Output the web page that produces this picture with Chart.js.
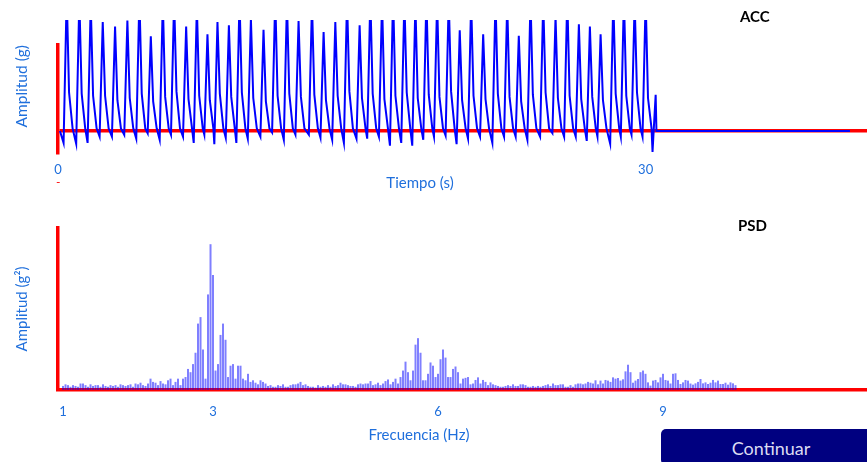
<!DOCTYPE html>
<html>
<head>
<meta charset="utf-8">
<script src="https://cdn.jsdelivr.net/npm/chart.js@4.4.0/dist/chart.umd.min.js"></script>
<style>
    body { margin: 0; width: 867px; height: 462px; overflow: hidden; background: #fff; position: relative; font-family: 'Lato', sans-serif; }
    .box { position: absolute; left: 0; width: 867px; }
    .label { position: absolute; white-space: nowrap; }
    .name { font-weight: bold; font-size: 15px; color: #000; }
    .axis { font-size: 15px; color: #1f6fdc; transform: translateX(-50%); }
    #continuar { position: absolute; left: 661px; top: 429px; width: 220px; height: 36px; background: #000080;
        border-radius: 5px; color: #dcdcf2; font-size: 18px; line-height: 38px; text-align: center; }
</style>
</head>
<body>
<div class="box" style="top:0;height:200px"><canvas id="accChart"></canvas></div>
<div class="box" style="top:200px;height:230px"><canvas id="psdChart"></canvas></div>
<div class="label name" style="left:740px;top:7px">ACC</div>
<div class="label name" style="left:738px;top:216px">PSD</div>
<div class="label axis" style="left:420px;top:173px">Tiempo (s)</div>
<div class="label axis" style="left:419px;top:425px">Frecuencia (Hz)</div>
<div class="label" style="left:56px;top:174px;color:#ff0000;font-size:12px">-</div>
<div id="continuar">Continuar</div>
<script>
// ACC signal, one entry per stride cycle (time of peak in s, values in g)
const accPeakTimes = [0.445, 1.089, 1.671, 2.284, 2.913, 3.542, 4.155, 4.738, 5.351, 5.928,
    6.542, 7.089, 7.630, 8.141, 8.724, 9.266, 9.848, 10.492, 11.090, 11.688,
    12.281, 12.966, 13.559, 14.157, 14.755, 15.398, 15.945, 16.543, 17.106, 17.683,
    18.245, 18.807, 19.354, 19.947, 20.509, 21.092, 21.705, 22.334, 22.932, 23.524,
    24.122, 24.771, 25.400, 25.998, 26.591, 27.153, 27.700, 28.349, 28.891, 29.438,
    30.000, 30.511];
const accPeaks = [6.2, 6.0, 5.8, 4.95, 4.75, 5.02, 6.1, 4.3, 5.9, 6.0,
    4.75, 5.7, 4.4, 4.95, 4.8, 6.0, 5.1, 4.6, 6.1, 5.9,
    5.0, 5.8, 4.5, 4.95, 6.0, 4.8, 6.1, 5.9, 6.2, 6.0,
    5.8, 6.1, 5.9, 6.0, 4.58, 5.9, 4.4, 6.0, 5.8, 4.33,
    6.0, 5.9, 5.2, 6.1, 4.85, 4.75, 4.4, 6.0, 6.1, 5.9,
    6.0, 1.65];
const accShoulders = [1.75, 1.7, 1.6, 1.6, 1.4, 1.5, 1.7, 1.35, 1.55, 1.8,
    1.45, 1.6, 1.4, 1.7, 1.55, 1.75, 1.5, 1.35, 1.6, 1.7,
    1.55, 1.65, 1.4, 1.6, 1.8, 1.5, 1.7, 1.45, 1.6, 1.75,
    1.5, 1.65, 1.55, 1.8, 1.4, 1.6, 1.45, 1.7, 1.55, 1.35,
    1.65, 1.75, 1.5, 1.6, 1.45, 1.55, 1.4, 1.7, 1.6, 1.75,
    1.5];
const accTroughs = [-0.54, -0.58, -0.54, -0.26, -0.26, -0.17, -0.35, -0.1, -0.4, -0.17,
    -0.26, -0.54, -0.17, -0.6, -0.31, -0.54, -0.35, -0.26, -0.07, -0.4,
    -0.17, -0.17, -0.3, -0.4, -0.54, -0.35, -0.35, -0.26, -0.67, -0.54,
    -0.67, -0.4, -0.26, -0.21, -0.6, -0.35, -0.26, -0.54, -0.26, -0.26,
    -0.4, -0.26, -0.1, -0.26, -0.26, -0.45, -0.26, -0.58, -0.26, -0.17,
    -0.26, -0.95];
const accStart = 0.1;
const accEnd = 40.43;
const accTicks = [0, 30];

// PSD, one bar per 1/30 Hz bin starting at 1 Hz
const psdStart = 1;
const psdStep = 1 / 30;
const psdValues = [
    0.025, 0.035, 0.03, 0.02, 0.03, 0.025, 0.02, 0.04, 0.04, 0.03,
    0.02, 0.035, 0.025, 0.03, 0.03, 0.02, 0.035, 0.025, 0.02, 0.03,
    0.025, 0.03, 0.02, 0.035, 0.03, 0.025, 0.03, 0.035, 0.02, 0.04,
    0.035, 0.045, 0.03, 0.025, 0.04, 0.07, 0.05, 0.045, 0.03, 0.055,
    0.04, 0.035, 0.06, 0.07, 0.03, 0.05, 0.07, 0.03, 0.07, 0.08,
    0.13, 0.11, 0.16, 0.23, 0.41, 0.45, 0.25, 0.07, 0.59, 0.9,
    0.71, 0.12, 0.16, 0.34, 0.41, 0.31, 0.08, 0.15, 0.16, 0.07,
    0.15, 0.15, 0.07, 0.06, 0.1, 0.05, 0.06, 0.045, 0.035, 0.06,
    0.05, 0.04, 0.025, 0.03, 0.02, 0.02, 0.03, 0.025, 0.035, 0.02,
    0.02, 0.03, 0.035, 0.035, 0.04, 0.05, 0.03, 0.035, 0.025, 0.02,
    0.02, 0.015, 0.03, 0.02, 0.025, 0.02, 0.03, 0.02, 0.035, 0.025,
    0.03, 0.045, 0.035, 0.035, 0.03, 0.025, 0.025, 0.02, 0.035, 0.04,
    0.035, 0.04, 0.04, 0.055, 0.03, 0.035, 0.045, 0.03, 0.04, 0.055,
    0.065, 0.035, 0.05, 0.07, 0.04, 0.08, 0.12, 0.175, 0.11, 0.06,
    0.12, 0.28, 0.32, 0.23, 0.06, 0.06, 0.1, 0.17, 0.15, 0.08,
    0.1, 0.19, 0.25, 0.2, 0.08, 0.08, 0.13, 0.145, 0.11, 0.04,
    0.07, 0.075, 0.08, 0.035, 0.04, 0.062, 0.078, 0.04, 0.062, 0.05,
    0.03, 0.047, 0.035, 0.03, 0.025, 0.02, 0.02, 0.025, 0.03, 0.025,
    0.035, 0.025, 0.025, 0.035, 0.035, 0.03, 0.02, 0.02, 0.025, 0.02,
    0.025, 0.02, 0.025, 0.03, 0.035, 0.025, 0.04, 0.03, 0.03, 0.035,
    0.035, 0.02, 0.02, 0.03, 0.02, 0.035, 0.04, 0.04, 0.035, 0.04,
    0.05, 0.045, 0.04, 0.06, 0.035, 0.058, 0.04, 0.062, 0.058, 0.05,
    0.078, 0.07, 0.074, 0.058, 0.066, 0.115, 0.156, 0.11, 0.045, 0.058,
    0.068, 0.11, 0.12, 0.1, 0.047, 0.027, 0.058, 0.062, 0.047, 0.078,
    0.1, 0.062, 0.058, 0.04, 0.1, 0.103, 0.062, 0.037, 0.047, 0.062,
    0.058, 0.04, 0.033, 0.041, 0.05, 0.068, 0.041, 0.047, 0.037, 0.045,
    0.062, 0.047, 0.058, 0.037, 0.037, 0.045, 0.033, 0.047, 0.041, 0.03
];
const psdTicks = [1, 3, 6, 9];

const RED = '#ff0000';
const BLUE_TEXT = '#1f6fdc';
const FONT = "'Lato', sans-serif";

document.addEventListener('DOMContentLoaded', () => {
    // each cycle: trough -> peak -> shoulder -> back near zero -> next trough
    const accPoints = [{x: accStart, y: 0}, {x: accPeakTimes[0] - 0.16, y: accTroughs[0]}];
    const last = accPeakTimes.length - 1;
    for (let i = 0; i <= last; i++) {
        accPoints.push({x: accPeakTimes[i], y: accPeaks[i]});
        if (i < last) {
            accPoints.push({x: accPeakTimes[i] + 0.12, y: accShoulders[i]});
            accPoints.push({x: accPeakTimes[i] + 0.3, y: 0.12});
            accPoints.push({x: accPeakTimes[i + 1] - 0.16, y: accTroughs[i + 1]});
        }
    }
    accPoints.push({x: accPeakTimes[last] + 0.04, y: 0}, {x: accEnd, y: 0});

    new Chart(document.getElementById('accChart'), {
        type: 'line',
        data: {
            datasets: [{
                data: accPoints,
                borderColor: '#0000ff',
                borderWidth: 2,
                pointRadius: 0,
                tension: 0,
                clip: {left: 0, top: 25, right: 0, bottom: 20}
            }]
        },
        options: {
            responsive: true,
            maintainAspectRatio: false,
            animation: false,
            layout: { padding: { top: 45, right: 0, left: 0, bottom: 0 } },
            plugins: { legend: { display: false }, tooltip: { enabled: false } },
            scales: {
                x: {
                    type: 'linear',
                    min: 0,
                    max: 41.3,
                    afterBuildTicks: (scale) => { scale.ticks = accTicks.map(v => ({value: v})); },
                    afterFit: (scale) => { scale.height = 47; },
                    grid: { display: false, drawTicks: false },
                    border: { display: false },
                    ticks: { color: BLUE_TEXT, padding: 9, maxRotation: 0, font: { family: FONT, size: 13 } }
                },
                y: {
                    min: -1,
                    max: 3.909,
                    afterFit: (scale) => { scale.width = 58; },
                    afterBuildTicks: (scale) => { scale.ticks = [{value: 0}]; },
                    ticks: { display: false },
                    grid: {
                        drawTicks: false,
                        lineWidth: 3.5,
                        color: RED
                    },
                    border: { color: RED, width: 3.5 },
                    title: {
                        display: true,
                        text: 'Amplitud (g)',
                        align: 'end',
                        color: BLUE_TEXT,
                        padding: { top: 13, bottom: 0 },
                        font: { family: FONT, size: 15.5 }
                    }
                }
            }
        }
    });

    const psdPoints = psdValues.map((v, i) => ({x: psdStart + i * psdStep, y: v}));

    new Chart(document.getElementById('psdChart'), {
        type: 'bar',
        data: {
            datasets: [{
                data: psdPoints,
                backgroundColor: 'rgba(0, 0, 255, 0.5)',
                borderWidth: 0,
                categoryPercentage: 1,
                barPercentage: 0.8
            }]
        },
        options: {
            responsive: true,
            maintainAspectRatio: false,
            animation: false,
            layout: { padding: { top: 28, right: 0, left: 0, bottom: 0 } },
            plugins: { legend: { display: false }, tooltip: { enabled: false } },
            scales: {
                x: {
                    type: 'linear',
                    offset: false,
                    min: 0.933,
                    max: 11.72,
                    afterBuildTicks: (scale) => { scale.ticks = psdTicks.map(v => ({value: v})); },
                    afterFit: (scale) => { scale.height = 40; },
                    grid: { display: false, drawTicks: false },
                    border: { color: RED, width: 3.5 },
                    ticks: { color: BLUE_TEXT, padding: 14, maxRotation: 0, font: { family: FONT, size: 13 } }
                },
                y: {
                    min: 0,
                    max: 1,
                    afterFit: (scale) => { scale.width = 58; },
                    ticks: { display: false },
                    grid: { display: false, drawTicks: false },
                    border: { color: RED, width: 3.5 },
                    title: {
                        display: true,
                        text: 'Amplitud (g²)',
                        color: BLUE_TEXT,
                        padding: { top: 13, bottom: 0 },
                        font: { family: FONT, size: 15 }
                    }
                }
            }
        }
    });
});
</script>
</body>
</html>
